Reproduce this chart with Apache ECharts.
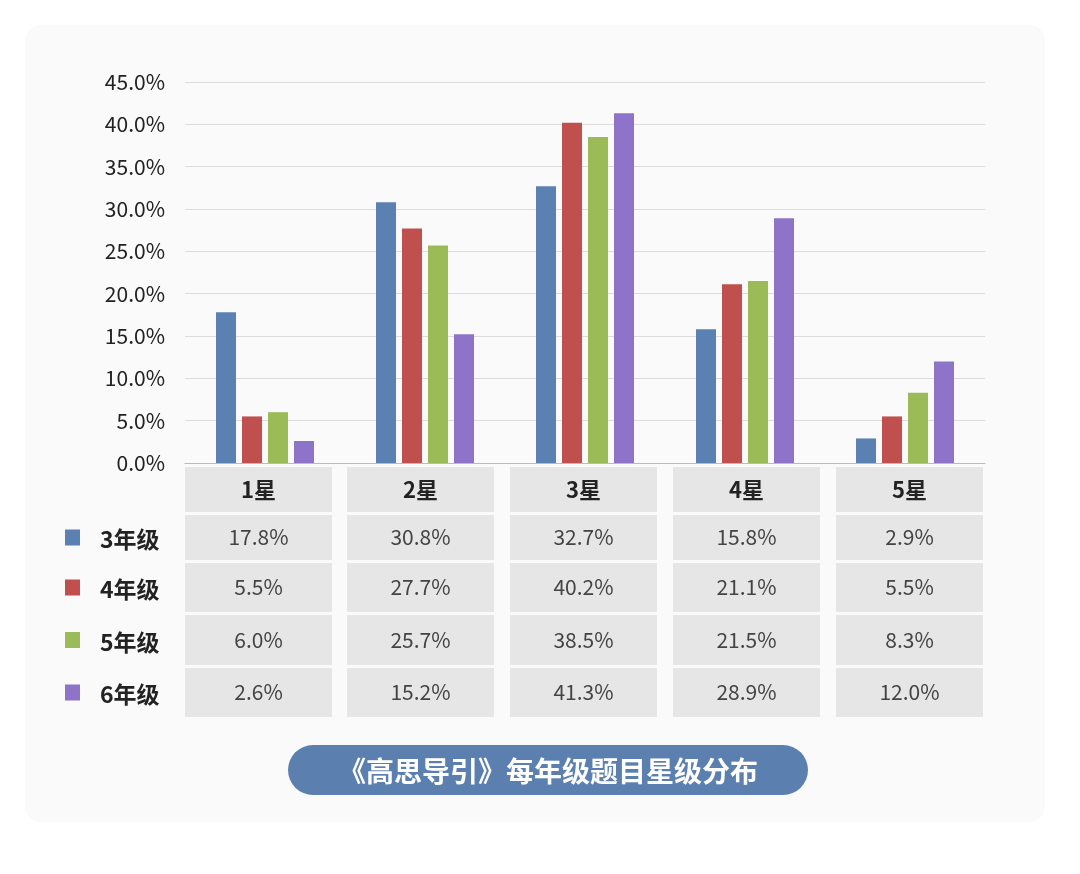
<!DOCTYPE html>
<html><head><meta charset="utf-8">
<script src="https://cdn.jsdelivr.net/npm/echarts@6/dist/echarts.min.js"></script>
<style>html,body{margin:0;background:#fff}#c{width:1080px;height:874px}</style>
</head><body><div id="c"></div>
<script>
const categories = ['1星','2星','3星','4星','5星'];
const seriesNames = ['3年级','4年级','5年级','6年级'];
const g3 = [17.8, 30.8, 32.7, 15.8, 2.9];
const g4 = [5.5, 27.7, 40.2, 21.1, 5.5];
const g5 = [6.0, 25.7, 38.5, 21.5, 8.3];
const g6 = [2.6, 15.2, 41.3, 28.9, 12.0];
const title = '《高思导引》每年级题目星级分布';
const colors = ['#5b80b2','#c0504d','#9bbb59','#8e73c9'];
const all = [g3,g4,g5,g6];

const font = '"Noto Sans CJK SC","Noto Sans",sans-serif';
const graphic = [
  {type:'rect',shape:{x:25,y:25,width:1020,height:797,r:16},style:{fill:'#fafafa'},z:-10}
];
const colX = [185,347,510,673,836], colW = 147;
const rows = [[467,45],[515,45],[563,49],[615,50],[668,49]];
categories.forEach((c,i)=>{
  graphic.push({type:'rect',shape:{x:colX[i],y:rows[0][0],width:colW,height:rows[0][1]},style:{fill:'#e6e6e6'}});
  graphic.push({type:'text',x:colX[i]+colW/2,y:rows[0][0]+rows[0][1]/2,style:{text:c,fill:'#222',font:'bold 22px '+font,textAlign:'center',textVerticalAlign:'middle'}});
  all.forEach((arr,r)=>{
    const [y,h]=rows[r+1];
    graphic.push({type:'rect',shape:{x:colX[i],y:y,width:colW,height:h},style:{fill:'#e6e6e6'}});
    graphic.push({type:'text',x:colX[i]+colW/2,y:y+h/2,style:{text:arr[i].toFixed(1)+'%',fill:'#444',font:'21px '+font,textAlign:'center',textVerticalAlign:'middle'}});
  });
});
seriesNames.forEach((n,r)=>{
  const [y,h]=rows[r+1];
  graphic.push({type:'rect',shape:{x:65,y:y+h/2-8,width:15,height:16},style:{fill:colors[r]}});
  graphic.push({type:'text',x:100,y:y+h/2+2,style:{text:n,fill:'#222',font:'bold 23px '+font,textVerticalAlign:'middle'}});
});
graphic.push({type:'rect',shape:{x:288,y:745,width:520,height:50,r:25},style:{fill:'#5b7fae'}});
graphic.push({type:'text',x:548,y:771,style:{text:title,fill:'#fff',font:'bold 28px '+font,textAlign:'center',textVerticalAlign:'middle'}});

const chart = echarts.init(document.getElementById('c'));
chart.setOption({
  animation:false,
  color:colors,
  grid:{left:185,right:95,top:82,bottom:411},
  xAxis:{type:'category',data:categories,axisLabel:{show:false},axisTick:{show:false},axisLine:{lineStyle:{color:'#bbb'}}},
  yAxis:{type:'value',min:0,max:45,interval:5,axisLabel:{formatter:v=>v.toFixed(1)+'%',color:'#222',fontSize:21,fontFamily:font,margin:20},splitLine:{lineStyle:{color:'#dcdcdc'}}},
  series:all.map((d,i)=>({name:seriesNames[i],type:'bar',data:d,barWidth:20,barGap:'30%'})),
  graphic:graphic
});
</script></body></html>
